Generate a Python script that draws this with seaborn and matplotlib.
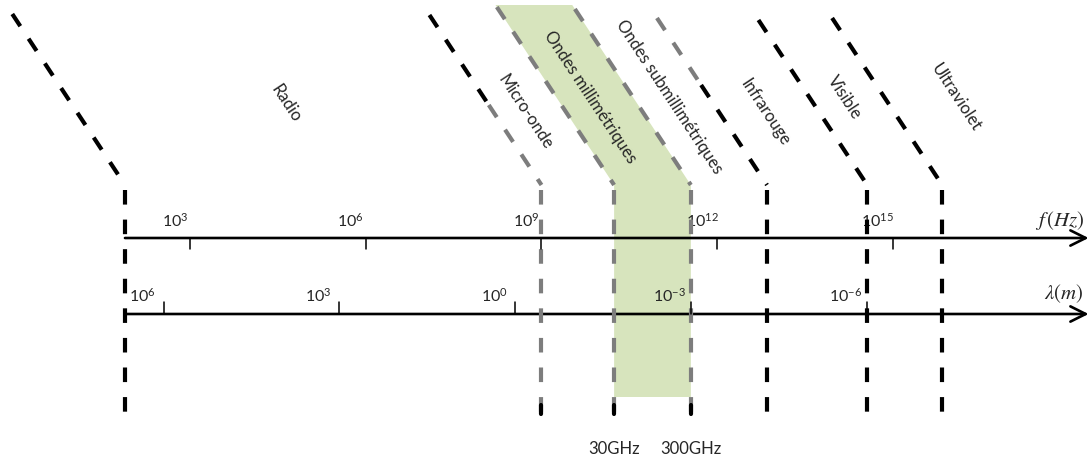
import math

import matplotlib
matplotlib.use('Agg')
import matplotlib.pyplot as plt
import seaborn as sns

# band boundaries (log10 of f in Hz)
band_edges = [1.89, 9.0, 10.24, 11.55, 12.85, 14.56, 15.84]
band_names = ['Radio', 'Micro-onde', 'Ondes millimétriques',
              'Ondes submillimétriques', 'Infrarouge', 'Visible', 'Ultraviolet']
# where each band name sits: log10 f and height on the page (px from top)
name_x = [4.64, 8.72, 9.83, 11.18, 12.82, 14.18, 16.08]
name_y = [104, 112, 97, 97, 112, 97, 98]

f_exps = [3, 6, 9, 12, 15]
lam_exps = [6, 3, 0, -3, -6]
LAM_ONE_METRE = 8.55  # log10 f that sits under lambda = 1 m on the drawing
mmw_labels = ['30GHz', '300GHz']

BLACK = 'black'
GREY = '#7d7d7d'
GREEN = '#d7e4bd'

# styling of each boundary line (top of diagonal, lower diagonal, vertical)
diag_top_col = [BLACK, BLACK, GREY, GREY, GREY, BLACK, BLACK]
diag_low_col = [BLACK, GREY, GREY, GREY, BLACK, BLACK, BLACK]
diag_split_y = [None, 105, None, None, 85, None, None]
diag_top_y = [14, 15, 7, 9, 18, 20, 18]

# page geometry
PX = 58.58          # pixels per decade
X3 = 190            # pixel x of 10^3 Hz
SLOPE = 0.659       # horizontal px per vertical px of the slanted part
KNEE_Y = 185
VERT_TOP, VERT_BOT = 190, 415
F_AXIS_Y, L_AXIS_Y = 238, 314
AXIS_END = 18.34
DASH = (3.5, 3.6)


def dec(px):
    return px / PX


sns.set_theme(style='white')
plt.rcParams['font.family'] = ['Lato', 'DejaVu Sans']

fig = plt.figure(figsize=(10.91, 4.58), dpi=100)
ax = fig.add_axes([0, 0, 1, 1])
left = 3 - dec(X3)
ax.set_xlim(left, left + dec(1091))
ax.set_ylim(458, 0)
ax.axis('off')

# millimetre-wave band
x3, x4 = band_edges[2], band_edges[3]
top_off = dec(SLOPE * (KNEE_Y - 5))
ax.fill([x3 - top_off, x4 - top_off, x4, x4, x3, x3],
        [5, 5, KNEE_Y, 397, 397, KNEE_Y], color=GREEN, lw=0, zorder=1)

# the two axes
for y in (F_AXIS_Y, L_AXIS_Y):
    ax.annotate('', xy=(AXIS_END, y), xytext=(band_edges[0], y),
                arrowprops=dict(arrowstyle='->,head_length=1.1,head_width=0.55',
                                lw=1.9, color=BLACK, shrinkA=0, shrinkB=0,
                                mutation_scale=10),
                annotation_clip=False, zorder=2)

for e in f_exps:
    ax.plot([e, e], [F_AXIS_Y, F_AXIS_Y + 11], color=BLACK, lw=1.1, zorder=4)
    ax.text(e - dec(15), 221, r'$\mathregular{10^{%d}}$' % e, fontsize=11.5,
            ha='center', va='center')
for e in lam_exps:
    xp = LAM_ONE_METRE - e
    ax.plot([xp, xp], [L_AXIS_Y - 12, L_AXIS_Y], color=BLACK, lw=1.1, zorder=4)
    ax.text(xp - dec(21), 296, r'$\mathregular{10^{%d}}$' % e, fontsize=11.5,
            ha='center', va='center')

ax.text(AXIS_END - dec(29), 221, r'$f\,(Hz)$', fontsize=15,
        math_fontfamily='stix', ha='center', va='center')
ax.text(AXIS_END - dec(25), 294, r'$\lambda(m)$', fontsize=15,
        math_fontfamily='stix', ha='center', va='center')

# boundary lines: slanted part, then vertical part
for i, e in enumerate(band_edges):
    x_top = e - dec(SLOPE * (KNEE_Y - diag_top_y[i]))
    if diag_split_y[i] is None:
        ax.plot([x_top, e], [diag_top_y[i], KNEE_Y], color=diag_top_col[i],
                lw=3, dashes=DASH, zorder=3)
    else:
        sy = diag_split_y[i]
        xs = e - dec(SLOPE * (KNEE_Y - sy))
        ax.plot([x_top, xs], [diag_top_y[i], sy], color=diag_top_col[i],
                lw=3, dashes=DASH, zorder=3)
        ax.plot([xs, e], [sy, KNEE_Y], color=diag_low_col[i],
                lw=3, dashes=DASH, zorder=3)
    vcol = diag_low_col[i]
    ax.plot([e, e], [VERT_TOP, VERT_BOT], color=vcol, lw=3, dashes=DASH,
            zorder=3)
    if vcol == GREY:
        ax.plot([e, e], [405, 414], color=BLACK, lw=3, zorder=3)

# band names along the slanted lines
angle = -math.degrees(math.atan2(1, SLOPE))
for name, x, y in zip(band_names, name_x, name_y):
    ax.text(x, y, name, fontsize=12, rotation=angle, rotation_mode='anchor',
            ha='center', va='center', zorder=5)

for lab, e in zip(mmw_labels, band_edges[2:4]):
    ax.text(e, 449, lab, fontsize=12, ha='center', va='center')

fig.savefig('out.png', dpi=100)
